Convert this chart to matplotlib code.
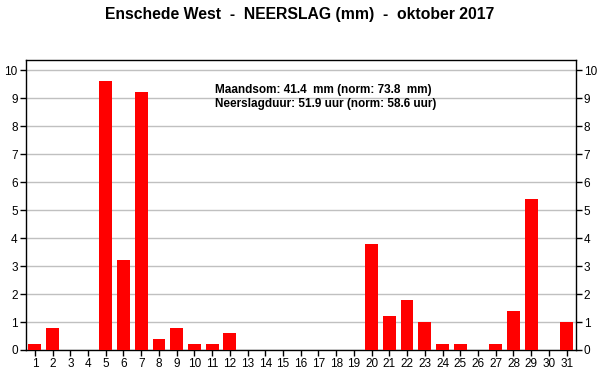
import matplotlib
matplotlib.use("Agg")
import matplotlib.pyplot as plt

days = list(range(1, 32))
rain = [0.2, 0.8, 0, 0, 9.6, 3.2, 9.2, 0.4, 0.8, 0.2, 0.2, 0.6, 0, 0, 0, 0, 0, 0, 0,
        3.8, 1.2, 1.8, 1.0, 0.2, 0.2, 0, 0.2, 1.4, 5.4, 0, 1.0]
yticks = list(range(0, 11))
title = "Enschede West  -  NEERSLAG (mm)  -  oktober 2017"
info = ["Maandsom: 41.4  mm (norm: 73.8  mm)", "Neerslagduur: 51.9 uur (norm: 58.6 uur)"]

plt.rcParams['font.family'] = ['Liberation Sans', 'DejaVu Sans']
fig = plt.figure(figsize=(6, 3.9), dpi=100)
W, H = 600, 390
ax = fig.add_axes([26 / W, 1 - 350 / H, (575.5 - 26) / W, (350 - 60) / H])
ax.bar(days, rain, width=0.72, color='#ff0000', zorder=3)
ax.set_xlim(0.5, 31.5)
ax.set_ylim(0, 10.36)
ax.set_xticks(days)
ax.set_xticklabels([str(d) for d in days], fontsize=8.5)
ax.set_yticks(yticks)
ax.set_yticklabels([str(v) for v in yticks], fontsize=8.5)
ax.tick_params(axis='y', which='both', left=True, right=True, labelleft=True, labelright=True,
               direction='out', length=4, width=1, pad=2)
ax.tick_params(axis='x', direction='out', length=4, width=1, pad=2)
ax.grid(axis='y', color='#c0c0c0', linewidth=1, zorder=0)
for s in ax.spines.values():
    s.set_linewidth(1)
    s.set_color('black')
fig.text(0.5, 1 - 14 / H, title, ha='center', va='center', fontsize=11.3, fontweight='bold')
fig.text(215 / W, 1 - 90 / H, info[0], ha='left', va='center', fontsize=8.45, fontweight='bold')
fig.text(215 / W, 1 - 104 / H, info[1], ha='left', va='center', fontsize=8.45, fontweight='bold')
fig.savefig("out.png", dpi=100)
